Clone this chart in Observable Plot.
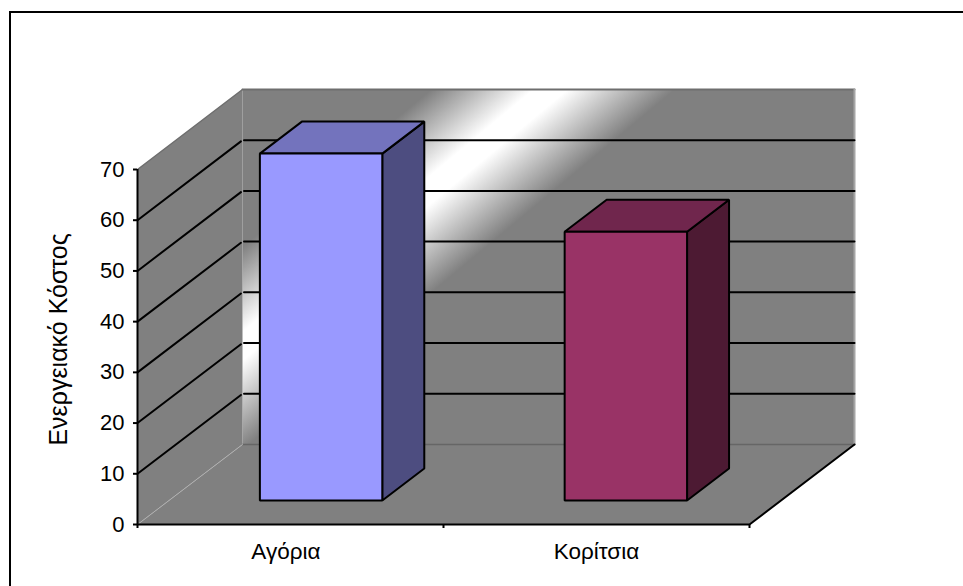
<!DOCTYPE html>
<html>
<head>
<meta charset="utf-8">
<script src="https://cdn.jsdelivr.net/npm/d3@7"></script>
<script src="https://cdn.jsdelivr.net/npm/@observablehq/plot@0.6"></script>
<style>
  html, body { margin: 0; padding: 0; background: #fff; overflow: hidden; }
  #chart { position: absolute; left: 0; top: 0; width: 963px; height: 586px; }
  #border { position: absolute; left: 9px; top: 11px; right: 0; bottom: 0; border-left: 2px solid #000; border-top: 2px solid #000; pointer-events: none; }
</style>
</head>
<body>
<div id="chart"></div>
<div id="border"></div>
<script>
const categories = ["Αγόρια", "Κορίτσια"];
const values = [68.4, 53];
const frontColors = ["#9999FF", "#993366"];
const topColors = ["#7373BD", "#70264D"];
const sideColors = ["#4D4D80", "#4D1A33"];
const yTicks = [0, 10, 20, 30, 40, 50, 60, 70];
const gridValues = [10, 20, 30, 40, 50, 60];
const axisTitle = "Ενεργειακό Κόστος";
const yMax = 70;
const xMax = categories.length;

// Oblique projection of the 3D box: depth 0 = front edge of floor, 1 = back wall
const depthX = 105 / 306;
const depthY = 80 / 5.07;
const P = (c, v, d) => ({ x: c + d * depthX, y: v + d * depthY });

const barStart = 0.297, barEnd = 0.697, depthStart = 0.3, depthEnd = 0.7, slotStep = 0.996;

function face(corners, options) {
  return Plot.line(corners.map(([c, v, d]) => P(c, v, d)), { x: "x", y: "y", curve: "linear-closed", ...options });
}
function edge(corners, options) {
  return Plot.line(corners.map(([c, v, d]) => P(c, v, d)), { x: "x", y: "y", ...options });
}

const defs = () => {
  const g = d3.create("svg:defs");
  const lg = g.append("linearGradient")
    .attr("id", "wallFill")
    .attr("gradientUnits", "userSpaceOnUse")
    .attr("x1", 205).attr("y1", 277)
    .attr("x2", 305).attr("y2", 397);
  lg.append("stop").attr("offset", "0").attr("stop-color", "#808080");
  lg.append("stop").attr("offset", "0.42").attr("stop-color", "#ffffff");
  lg.append("stop").attr("offset", "0.56").attr("stop-color", "#ffffff");
  lg.append("stop").attr("offset", "1").attr("stop-color", "#808080");
  return g.node();
};

const marks = [
  defs,
  // back wall, left wall, floor
  face([[0, 0, 1], [xMax, 0, 1], [xMax, yMax, 1], [0, yMax, 1]], { fill: "url(#wallFill)", stroke: "none" }),
  edge([[0, yMax, 1], [xMax, yMax, 1]], { stroke: "#6e6e6e", strokeWidth: 2 }),
  edge([[xMax, yMax, 1], [xMax, 0, 1]], { stroke: "#a6a6a6", strokeWidth: 2 }),
  face([[0, 0, 0], [0, yMax, 0], [0, yMax, 1], [0, 0, 1]], { fill: "#808080", stroke: "none" }),
  edge([[0, yMax, 0], [0, yMax, 1]], { stroke: "#6e6e6e", strokeWidth: 1.5 }),
  face([[0, 0, 0], [xMax, 0, 0], [xMax, 0, 1], [0, 0, 1]], { fill: "#808080", stroke: "none" }),
  edge([[0, 0, 1], [xMax, 0, 1]], { stroke: "#666", strokeWidth: 1.5 }),
  edge([[0, 0, 0], [0, 0, 1]], { stroke: "#b0b0b0", strokeWidth: 1 }),
  // gridlines
  ...gridValues.flatMap(v => [
    edge([[0, v, 0], [0, v, 0.985]], { stroke: "#000", strokeWidth: 2 }),
    edge([[0.005, v, 1], [xMax, v, 1]], { stroke: "#000", strokeWidth: 2 })
  ]),
  // floor outline
  edge([[0, 0, 0], [xMax, 0, 0], [xMax, 0, 1]], { stroke: "#000", strokeWidth: 2 }),
  // axes
  Plot.axisY({ ticks: yTicks, tickSize: 4, tickPadding: 9, label: null, fontSize: 22, fill: "#000", stroke: "#000", strokeWidth: 2 }),
  Plot.ruleX([0], { y1: 0, y2: yMax, stroke: "#000", strokeWidth: 2 }),
  Plot.axisX({ ticks: d3.range(0, xMax + 1), tickSize: 4, tickFormat: () => "", label: null, stroke: "#000", strokeWidth: 2 }),
  // bars
  ...categories.flatMap((_, i) => {
    const c0 = i * slotStep + barStart, c1 = i * slotStep + barEnd, v = values[i];
    const st = { stroke: "#000", strokeWidth: 2, strokeLinejoin: "miter" };
    return [
      face([[c1, 0, depthStart], [c1, 0, depthEnd], [c1, v, depthEnd], [c1, v, depthStart]], { fill: sideColors[i], ...st }),
      face([[c0, v, depthStart], [c1, v, depthStart], [c1, v, depthEnd], [c0, v, depthEnd]], { fill: topColors[i], ...st }),
      face([[c0, 0, depthStart], [c1, 0, depthStart], [c1, v, depthStart], [c0, v, depthStart]], { fill: frontColors[i], ...st })
    ];
  }),
  // category labels
  Plot.text(categories, {
    x: (_, i) => i + 0.5 - (i === 0 ? 0.015 : 0),
    y: () => 0,
    dy: 27,
    text: d => d,
    fontSize: 22.5,
    fill: "#000"
  }),
  // axis title
  Plot.text([axisTitle], {
    x: () => -0.255,
    y: () => 36.5,
    text: d => d,
    rotate: -90,
    fontSize: 25,
    fill: "#000"
  })
];

const chart = Plot.plot({
  width: 963,
  height: 586,
  marginLeft: 137,
  marginRight: 214,
  marginTop: 169,
  marginBottom: 62,
  x: { type: "linear", domain: [0, xMax], axis: null },
  y: { type: "linear", domain: [0, yMax], axis: null },
  style: { fontFamily: "'Liberation Sans', Arial, sans-serif", fontSize: "22px", background: "#fff", color: "#000" },
  marks
});
document.getElementById("chart").appendChild(chart);
</script>
</body>
</html>
